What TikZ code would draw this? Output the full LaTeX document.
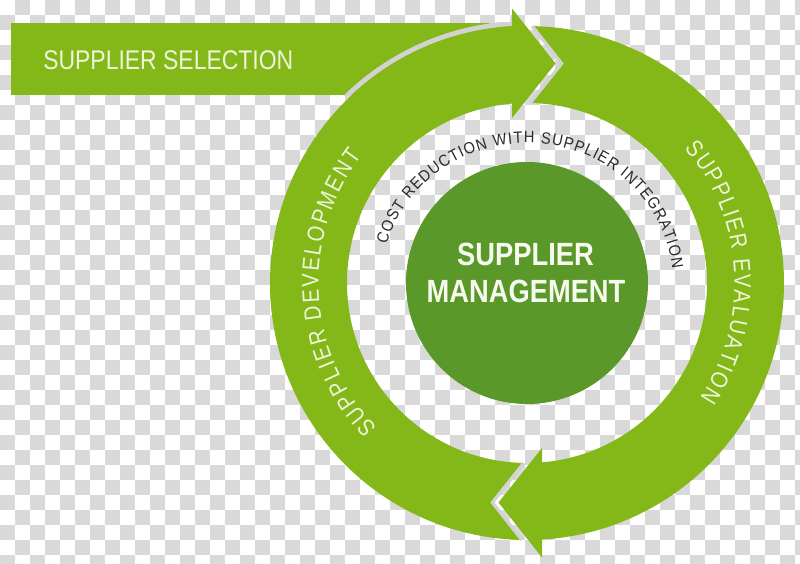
\documentclass[tikz,border=0pt]{standalone}
\usepackage{fontspec}
\setmainfont{Liberation Sans}
\newfontfamily\ringfont[FakeStretch=0.85]{Liberation Sans}
\newfontfamily\innerfont[FakeStretch=0.9]{Liberation Sans}
\usetikzlibrary{decorations.text}
\definecolor{ringgreen}{HTML}{84B819}
\definecolor{coregreen}{HTML}{5A9829}
\definecolor{paletext}{HTML}{EEF5D8}
\definecolor{coretext}{HTML}{F6F9EE}
\definecolor{chk}{HTML}{D9D9D9}
\definecolor{gapgray}{HTML}{D2D2D2}
\definecolor{darktext}{HTML}{2A2A2A}
\tikzset{
  arrowshape/.style={fill=ringgreen},
  gapline/.style={draw=gapgray, line width=2.4pt, line join=miter},
  ringlabel/.style={decorate, decoration={text along path, text align={fit to path}}}
}
\begin{document}
\begin{tikzpicture}[x=0.75pt,y=0.75pt]
\useasboundingbox (0,0) rectangle (800,564);
\clip (0,0) rectangle (800,564);
% transparency checkerboard
\fill[white] (0,0) rectangle (800,564);
\foreach \r in {0,...,37}{
  \foreach \c in {0,...,26}{
    \pgfmathsetmacro\xx{30*\c+15*mod(\r+1,2)}
    \pgfmathsetmacro\yy{549-15*\r}
    \fill[chk] (\xx,\yy) rectangle ++(15,15);
  }
}
% supplier selection bar
\fill[ringgreen] (10.7,468.5) rectangle (512,541.3);
\begin{scope}
  \clip (10.7,468.5) rectangle (512,541.3);
  \draw[gapgray, line width=3.6pt] (527,281) circle[radius=259.8];
\end{scope}
\node (sel) [anchor=base west, inner sep=0pt, text=paletext,
  font=\fontsize{20.25}{24}\ringfont] at (43,494.7) {SUPPLIER SELECTION};
% ring arrows
\begin{scope}[shift={(527,281)}]
  \fill[arrowshape] (88.46:257) arc[start angle=88.46, end angle=-86.65, radius=257]
    -- (15,-274.5) -- (-28.5,-219.5) -- (15,-165) -- (-85.22:180)
    arc[start angle=-85.22, end angle=88.42, radius=180] -- (36.5,219.5) -- cycle;
  \fill[arrowshape, rotate=180] (88.46:257) arc[start angle=88.46, end angle=-86.65, radius=257]
    -- (15,-274.5) -- (-28.5,-219.5) -- (15,-165) -- (-85.22:180)
    arc[start angle=-85.22, end angle=88.42, radius=180] -- (36.5,219.5) -- cycle;
  \draw[gapline] (5.2,256.9) -- (34.6,219.5) -- (3.2,180);
  \draw[gapline, rotate=180] (5.2,256.9) -- (34.6,219.5) -- (3.2,180);
  % curved labels
  \path[ringlabel, decoration={text={|\fontsize{17.8}{20}\ringfont\color{paletext}|SUPPLIER DEVELOPMENT}}]
    (224:208.5) arc[start angle=224, end angle=142.5, radius=208.5];
  \path[ringlabel, decoration={text={|\fontsize{17.8}{20}\ringfont\color{paletext}|SUPPLIER EVALUATION}}]
    (40.5:207.5) arc[start angle=40.5, end angle=-33.5, radius=207.5];
  \path[ringlabel, decoration={text={|\fontsize{12.2}{14}\innerfont\color{darktext}|COST REDUCTION WITH SUPPLIER INTEGRATION}}]
    (164:146 and 140) arc[start angle=164, end angle=5.7, x radius=146, y radius=140];
\end{scope}
% core circle
\node (core) [circle, fill=coregreen, minimum size=181.5pt, inner sep=0pt] at (527,281) {};
\node (coretop) [anchor=base, inner sep=0pt, text=coretext,
  font=\fontsize{24.1}{28}\ringfont\bfseries] at (525.5,298) {SUPPLIER};
\node (corebot) [anchor=base, inner sep=0pt, text=coretext,
  font=\fontsize{24.1}{28}\ringfont\bfseries] at (526,261) {MANAGEMENT};
\end{tikzpicture}
\end{document}
